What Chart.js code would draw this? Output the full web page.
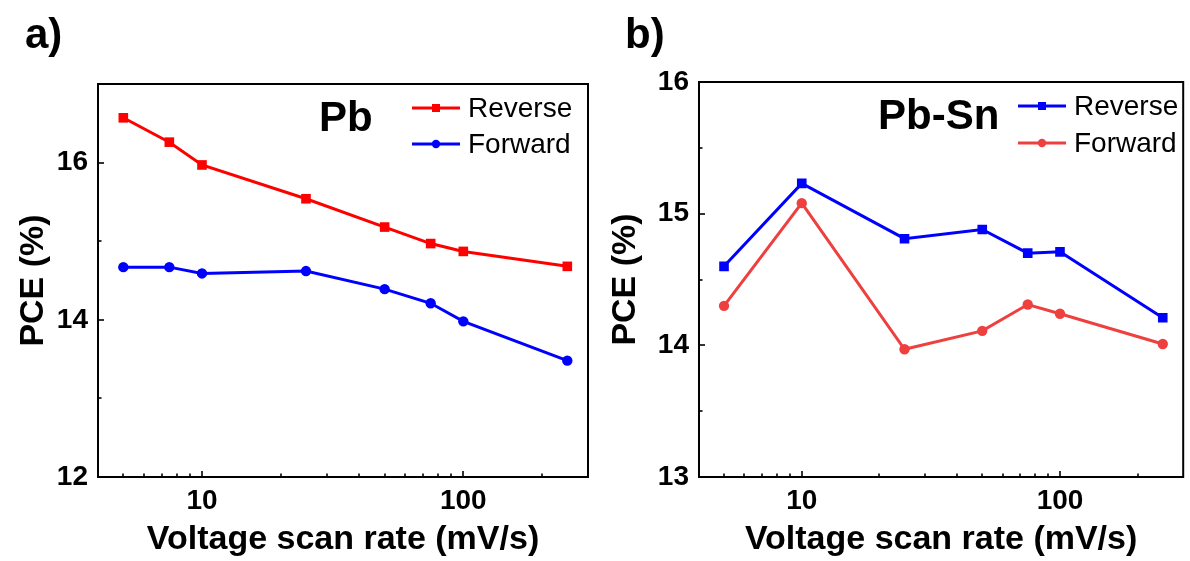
<!DOCTYPE html>
<html>
<head>
<meta charset="utf-8">
<script src="https://cdn.jsdelivr.net/npm/chart.js@4.4.1/dist/chart.umd.min.js"></script>
<style>
    body { margin: 0; background: #fff; }
    #wrap { position: relative; width: 1190px; height: 561px; }
    canvas { position: absolute; top: 0; }
</style>
</head>
<body>
<div id="wrap">
    <canvas id="chartPb" width="595" height="561" style="left:0"></canvas>
    <canvas id="chartPbSn" width="595" height="561" style="left:595px"></canvas>
</div>
<script>
/* data */
var pbRates = [5, 7.5, 10, 25, 50, 75, 100, 250];
var pbReverse = [16.57, 16.26, 15.97, 15.54, 15.18, 14.97, 14.87, 14.68];
var pbForward = [14.67, 14.67, 14.59, 14.62, 14.39, 14.21, 13.98, 13.48];

var pbSnRates = [5, 10, 25, 50, 75, 100, 250];
var pbSnReverse = [14.60, 15.23, 14.81, 14.88, 14.70, 14.71, 14.21];
var pbSnForward = [14.30, 15.08, 13.97, 14.11, 14.31, 14.24, 14.01];

var xTickValues = [5, 6, 7, 8, 9, 10, 20, 30, 40, 50, 60, 70, 80, 90, 100, 200];
var xTickLabels = [10, 100];
var pbYTicks = [12, 13, 14, 15, 16, 17];
var pbYLabels = [12, 14, 16];
var pbSnYTicks = [13, 13.5, 14, 14.5, 15, 15.5, 16];
var pbSnYLabels = [13, 14, 15, 16];

Chart.defaults.font.family = "'Liberation Sans', Arial, sans-serif";
Chart.defaults.color = '#000';

function toPoints(xs, ys) {
    return xs.map(function (x, i) { return { x: x, y: ys[i] }; });
}

/*Box, inward ticks, legend and labels*/
var panelDecor = {
    id: 'panelDecor',
    afterDraw: function (chart, args, opts) {
        var ctx = chart.ctx;
        var a = chart.chartArea;
        var sx = chart.scales.x, sy = chart.scales.y;
        ctx.save();
        ctx.strokeStyle = '#000';
        ctx.lineWidth = 1.6;
        xTickValues.forEach(function (v) {
            var px = Math.round(sx.getPixelForValue(v));
            var len = xTickLabels.indexOf(v) >= 0 ? 6 : 3.5;
            ctx.beginPath();
            ctx.moveTo(px, a.bottom);
            ctx.lineTo(px, a.bottom - len);
            ctx.stroke();
        });
        opts.yTicks.forEach(function (v) {
            var py = Math.round(sy.getPixelForValue(v));
            var len = opts.yLabels.indexOf(v) >= 0 ? 6 : 3.5;
            ctx.beginPath();
            ctx.moveTo(a.left, py);
            ctx.lineTo(a.left + len, py);
            ctx.stroke();
        });
        ctx.lineWidth = 2;
        ctx.strokeRect(a.left, a.top, a.right - a.left, a.bottom - a.top);

        // legend
        chart.data.datasets.forEach(function (ds, i) {
            var y = opts.legendY[i];
            var x0 = opts.legendX, x1 = opts.legendX + 48, cx = (x0 + x1) / 2;
            ctx.strokeStyle = ds.borderColor;
            ctx.fillStyle = ds.borderColor;
            ctx.lineWidth = 3;
            ctx.beginPath();
            ctx.moveTo(x0, y);
            ctx.lineTo(x1, y);
            ctx.stroke();
            if (ds.pointStyle == 'rect') {
                ctx.fillRect(cx - 4, y - 4, 8, 8);
            } else {
                ctx.beginPath();
                ctx.arc(cx, y, 4.2, 0, Math.PI * 2);
                ctx.fill();
            }
            ctx.fillStyle = '#000';
            ctx.font = "28px 'Liberation Sans', Arial, sans-serif";
            ctx.textAlign = 'left';
            ctx.textBaseline = 'middle';
            ctx.fillText(ds.label, x1 + 8, y + 1);
        });

        ctx.fillStyle = '#000';
        ctx.textBaseline = 'alphabetic';
        ctx.font = "bold 42px 'Liberation Sans', Arial, sans-serif";
        ctx.textAlign = 'left';
        ctx.fillText(opts.name, opts.nameX, opts.nameY);
        ctx.fillText(opts.letter, opts.letterX, 48);
        ctx.restore();
    }
};

function makePanel(canvasId, rates, reverse, forward, revColor, fwdColor, yMin, yMax, yTicks, yLabels, decor, layout) {
    return new Chart(document.getElementById(canvasId), {
        type: 'line',
        data: {
            datasets: [
                {
                    label: 'Reverse',
                    data: toPoints(rates, reverse),
                    borderColor: revColor,
                    backgroundColor: revColor,
                    borderWidth: 3,
                    pointStyle: 'rect',
                    pointRadius: 6.8,
                    pointBorderWidth: 0,
                    tension: 0
                },
                {
                    label: 'Forward',
                    data: toPoints(rates, forward),
                    borderColor: fwdColor,
                    backgroundColor: fwdColor,
                    borderWidth: 3,
                    pointStyle: 'circle',
                    pointRadius: 5.2,
                    pointBorderWidth: 0,
                    tension: 0
                }]
        },
        options: {
            responsive: false,
            animation: false,
            events: [],
            layout: { padding: { top: layout.top, right: layout.right, left: 0, bottom: 0 } },
            plugins: {
                legend: { display: false },
                tooltip: { enabled: false },
                panelDecor: decor
            },
            scales: {
                x: {
                    type: 'logarithmic',
                    min: 4,
                    max: 300,
                    grid: { display: false, drawTicks: false },
                    border: { display: false },
                    afterBuildTicks: function (scale) {
                        scale.ticks = xTickValues.map(function (v) { return { value: v }; });
                    },
                    afterFit: function (scale) { scale.height = 561 - layout.bottomAxis; },
                    ticks: {
                        autoSkip: false,
                        maxRotation: 0,
                        padding: 7,
                        font: { size: 28, weight: 'bold' },
                        callback: function (value) {
                            return xTickLabels.indexOf(value) >= 0 ? String(value) : '';
                        }
                    },
                    title: {
                        display: true,
                        text: 'Voltage scan rate (mV/s)',
                        font: { size: 34, weight: 'bold' },
                        padding: { top: 0, bottom: 1 }
                    }
                },
                y: {
                    min: yMin,
                    max: yMax,
                    grid: { display: false, drawTicks: false },
                    border: { display: false },
                    afterBuildTicks: function (scale) {
                        scale.ticks = yTicks.map(function (v) { return { value: v }; });
                    },
                    afterFit: function (scale) { scale.width = layout.axisWidth; },
                    ticks: {
                        autoSkip: false,
                        padding: 10,
                        font: { size: 28, weight: 'bold' },
                        callback: function (value) {
                            return yLabels.indexOf(value) >= 0 ? String(value) : '';
                        }
                    },
                    title: {
                        display: true,
                        text: 'PCE (%)',
                        font: { size: 34, weight: 'bold' },
                        padding: { top: layout.titlePad, bottom: 0 }
                    }
                }
            }
        },
        plugins: [panelDecor]
    });
}

makePanel('chartPb', pbRates, pbReverse, pbForward, '#ff0000', '#0000ff', 12, 17, pbYTicks, pbYLabels,
    { yTicks: pbYTicks, yLabels: pbYLabels, legendX: 412, legendY: [108, 144], name: 'Pb', nameX: 319, nameY: 131, letter: 'a)', letterX: 25 },
    { top: 84, right: 7, bottomAxis: 477, axisWidth: 98, titlePad: 13 });

makePanel('chartPbSn', pbSnRates, pbSnReverse, pbSnForward, '#0000ff', '#ef4040', 13, 16, pbSnYTicks, pbSnYLabels,
    { yTicks: pbSnYTicks, yLabels: pbSnYLabels, legendX: 423, legendY: [106, 143], name: 'Pb-Sn', nameX: 283, nameY: 129, letter: 'b)', letterX: 30 },
    { top: 82, right: 2, bottomAxis: 477, axisWidth: 104, titlePad: 10 });
</script>
</body>
</html>
